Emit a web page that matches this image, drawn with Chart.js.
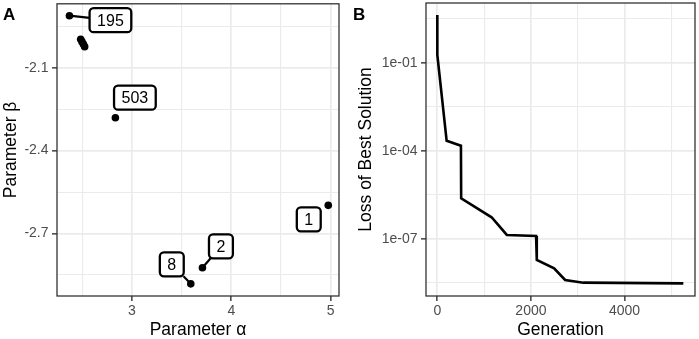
<!DOCTYPE html>
<html>
<head>
<meta charset="utf-8">
<script src="https://cdn.jsdelivr.net/npm/chart.js@4.4.1/dist/chart.umd.min.js"></script>
<style>
  html, body { margin: 0; padding: 0; background: #fff; }
  #wrap { position: relative; width: 699px; height: 339px; overflow: hidden; }
  .panel { position: absolute; top: 0; height: 339px; }
  .tag { position: absolute; font: bold 17px "Liberation Sans", Arial, sans-serif; line-height: 17px; color: #000; }
</style>
</head>
<body>
<div id="wrap">
  <div class="panel" style="left:0;width:345px"><canvas id="paramChart" width="345" height="339"></canvas></div>
  <div class="panel" style="left:345px;width:354px"><canvas id="lossChart" width="354" height="339"></canvas></div>
  <div class="tag" style="left:3px;top:6px">A</div>
  <div class="tag" style="left:353px;top:6px">B</div>
</div>
<script>
// --- Panel A: parameter estimates per run ---
const alphaValues = [2.373, 2.486, 2.499, 2.513, 2.526, 2.835, 4.975, 3.710, 3.593];
const betaValues = [-1.912, -1.997, -2.006, -2.015, -2.024, -2.281, -2.598, -2.824, -2.882];
const runLabels = ['195', '', '', '', '', '503', '1', '2', '8'];

const alphaTicks = [3, 4, 5];
const alphaTickLabels = ['3', '4', '5'];
const alphaMinor = [2.5, 3.5, 4.5];
const betaTicks = [-2.7, -2.4, -2.1];
const betaTickLabels = ['-2.7', '-2.4', '-2.1'];
const betaMinor = [-2.85, -2.55, -2.25, -1.95];

// --- Panel B: loss of best solution over generations ---
const generations = [0, 1, 200, 505, 510, 1160, 1485, 2110, 2125, 2495, 2730, 3120, 5255];
const bestLoss = [4.2, 0.183, 2.17e-4, 1.47e-4, 2.38e-6, 5.36e-7, 1.34e-7, 1.23e-7, 1.87e-8, 9.8e-9, 3.9e-9, 3.16e-9, 3.0e-9];

const genTicks = [0, 2000, 4000];
const genTickLabels = ['0', '2000', '4000'];
const genMinor = [1000, 3000, 5000];
const lossTicks = [1e-7, 1e-4, 1e-1];
const lossTickLabels = ['1e-07', '1e-04', '1e-01'];
const lossMinor = [10 ** -8.5, 10 ** -5.5, 10 ** -2.5, 10 ** 0.5];

// label box offsets from their point, in pixels (ggrepel-like placement)
const labelNudge = [[41, 4.5], null, null, null, null, [19.5, -20], [-19.5, 14], [18.5, -21.5], [-19, -19.5]];

const FONT = '"Liberation Sans", Arial, Helvetica, sans-serif';
const GRID = '#EBEBEB';
Chart.defaults.font.family = FONT;
Chart.defaults.animation = false;

// builds one ggplot-like axis: major + minor grid, ticks only on major
function makeAxis({ type = 'linear', min, max, major, labels, minor, title, titlePad, horizontal }) {
    const same = (a, b) => Math.abs(a - b) <= Math.abs(b) * 1e-6 + 1e-12;
    const majorIndex = v => major.findIndex(m => same(v, m));
    const isMajor = c => c.tick && majorIndex(c.tick.value) >= 0;
    return {
        type, min, max,
        afterBuildTicks: s => {
            s.ticks = major.concat(minor).sort((a, b) => a - b).map(v => ({ value: v }));
        },
        afterFit: s => {
            if (horizontal) s.height = 43; else s.width = s.chart.options.layout.yAxisWidth;
            // no extra room for overhanging labels, the plot panel edges are fixed
            s.paddingTop = s.paddingBottom = s.paddingLeft = s.paddingRight = 0;
        },
        border: { display: false },
        grid: {
            color: GRID,
            lineWidth: c => isMajor(c) ? 1.7 : 1.1,
            drawTicks: true,
            tickLength: 5,
            tickWidth: 1.4,
            tickColor: c => isMajor(c) ? '#333333' : 'rgba(0,0,0,0)'
        },
        ticks: {
            autoSkip: false,
            maxRotation: 0,
            padding: horizontal ? 2 : 3.5,
            color: '#4D4D4D',
            font: { size: 14, lineHeight: 1.2 },
            callback: v => {
                const i = majorIndex(v);
                return i >= 0 ? labels[i] : '';
            }
        },
        title: {
            display: true,
            text: title,
            color: '#000',
            font: { size: 17.5, lineHeight: 1 },
            padding: horizontal ? { top: 0, bottom: 0 } : { top: titlePad, bottom: 0 }
        }
    };
}

const panelBorder = {
    id: 'panelBorder',
    afterDraw(chart) {
        const { ctx, chartArea: a } = chart;
        ctx.save();
        ctx.strokeStyle = '#333333';
        ctx.lineWidth = 1.3;
        ctx.strokeRect(a.left, a.top, a.right - a.left, a.bottom - a.top);
        ctx.restore();
    }
};

const runLabelBoxes = {
    id: 'runLabelBoxes',
    afterDatasetsDraw(chart) {
        const { ctx, scales: { x, y } } = chart;
        ctx.save();
        ctx.font = '16px ' + FONT;
        runLabels.forEach((txt, i) => {
            if (!txt) return;
            const px = x.getPixelForValue(alphaValues[i]);
            const py = y.getPixelForValue(betaValues[i]);
            const [dx, dy] = labelNudge[i];
            const cx = px + dx, cy = py + dy;
            const w = ctx.measureText(txt).width + 15, h = 24;
            const left = cx - w / 2, top = cy - h / 2;

            // segment only when the box sits far enough from its point
            const nx = Math.max(left, Math.min(px, left + w));
            const ny = Math.max(top, Math.min(py, top + h));
            if (Math.hypot(nx - px, ny - py) > 9) {
                const s = Math.min((w / 2) / Math.abs(dx || 1e-6), (h / 2) / Math.abs(dy || 1e-6));
                ctx.strokeStyle = '#000';
                ctx.lineWidth = 2.2;
                ctx.beginPath();
                ctx.moveTo(px, py);
                ctx.lineTo(cx - s * dx, cy - s * dy);
                ctx.stroke();
            }

            ctx.beginPath();
            ctx.roundRect(left, top, w, h, 4);
            ctx.fillStyle = '#fff';
            ctx.fill();
            ctx.lineWidth = 2.3;
            ctx.strokeStyle = '#000';
            ctx.stroke();

            ctx.fillStyle = '#000';
            ctx.textAlign = 'center';
            ctx.textBaseline = 'alphabetic';
            ctx.fillText(txt, cx, cy + 5.8);
        });
        ctx.restore();
    }
};

new Chart(document.getElementById('paramChart'), {
    type: 'scatter',
    data: {
        datasets: [{
            data: alphaValues.map((a, i) => ({ x: a, y: betaValues[i] })),
            pointRadius: 3.8,
            pointHoverRadius: 3.8,
            backgroundColor: '#000',
            borderWidth: 0
        }]
    },
    options: {
        responsive: false,
        layout: { padding: { left: 0, right: 6, top: 3, bottom: 0 }, yAxisWidth: 57 },
        plugins: { legend: { display: false }, tooltip: { enabled: false } },
        scales: {
            x: makeAxis({ min: 2.248, max: 5.083, major: alphaTicks, labels: alphaTickLabels, minor: alphaMinor, title: 'Parameter α', horizontal: true }),
            y: makeAxis({ min: -2.926, max: -1.869, major: betaTicks, labels: betaTickLabels, minor: betaMinor, title: 'Parameter β', titlePad: 2.75 })
        }
    },
    plugins: [panelBorder, runLabelBoxes]
});

new Chart(document.getElementById('lossChart'), {
    type: 'line',
    data: {
        datasets: [{
            data: generations.map((g, i) => ({ x: g, y: bestLoss[i] })),
            borderColor: '#000',
            borderWidth: 2.6,
            pointRadius: 0,
            tension: 0,
            fill: false
        }]
    },
    options: {
        responsive: false,
        layout: { padding: { left: 0, right: 4, top: 3, bottom: 0 }, yAxisWidth: 81 },
        plugins: { legend: { display: false }, tooltip: { enabled: false } },
        scales: {
            x: makeAxis({ min: -241, max: 5504, major: genTicks, labels: genTickLabels, minor: genMinor, title: 'Generation', horizontal: true }),
            y: makeAxis({ type: 'logarithmic', min: 10 ** -8.955, max: 10 ** 1.035, major: lossTicks, labels: lossTickLabels, minor: lossMinor, title: 'Loss of Best Solution', titlePad: 12.75 })
        }
    },
    plugins: [panelBorder]
});
</script>
</body>
</html>
